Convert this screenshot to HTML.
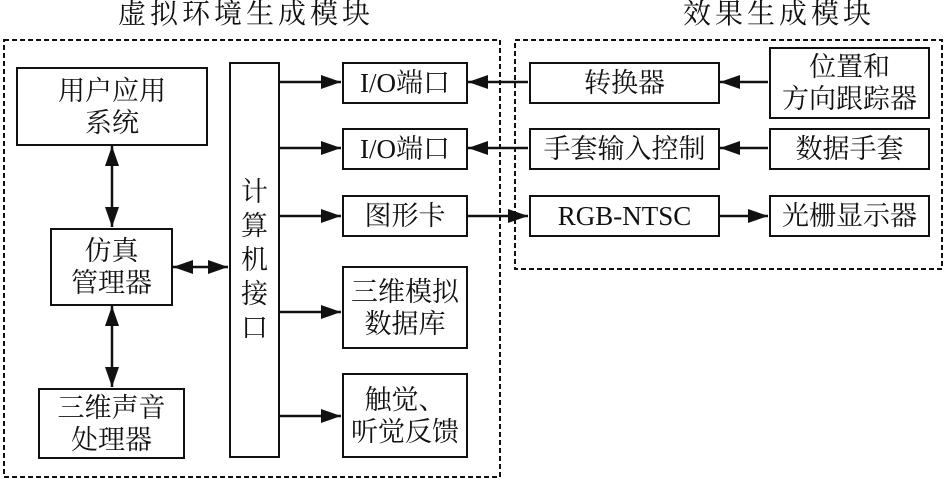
<!DOCTYPE html>
<html><head><meta charset="utf-8"><style>
body{margin:0;background:#fff;}
.c{position:relative;width:945px;height:479px;overflow:hidden;font-family:"Liberation Serif","Noto Serif CJK SC",serif;color:#111;}
.b{position:absolute;border:2.5px solid #111;box-sizing:border-box;display:flex;align-items:center;justify-content:center;text-align:center;font-size:27px;line-height:32px;background:#fff;}
.t{position:absolute;font-size:28px;letter-spacing:4px;white-space:nowrap;line-height:30px;}
svg{position:absolute;left:0;top:0;}
</style></head><body><div class="c">
<div class="t" style="left:118px;top:0px;">虚拟环境生成模块</div>
<div class="t" style="left:683px;top:0px;">效果生成模块</div>
<svg width="945" height="479">
<defs><marker id="a" markerWidth="10" markerHeight="8" refX="10" refY="4" orient="auto" markerUnits="userSpaceOnUse"><path d="M0,0L10,4L0,8z" fill="#111"/></marker>
<marker id="a2" viewBox="0 0 20 14" markerWidth="20" markerHeight="14" refX="20" refY="7" orient="auto" markerUnits="userSpaceOnUse"><path d="M0,0L20,7L0,14z" fill="#111"/></marker>
<marker id="s2" viewBox="0 0 20 14" markerWidth="20" markerHeight="14" refX="0" refY="7" orient="auto" markerUnits="userSpaceOnUse"><path d="M20,0L0,7L20,14z" fill="#111"/></marker></defs>
<rect x="4" y="40" width="496" height="437" fill="none" stroke="#111" stroke-width="2" stroke-dasharray="5,3"/>
<rect x="515" y="40" width="427" height="229" fill="none" stroke="#111" stroke-width="2" stroke-dasharray="5,3"/>
<g stroke="#111" stroke-width="2.5" fill="none">
<line x1="112" y1="146" x2="112" y2="227" marker-start="url(#s2)" marker-end="url(#a2)"/>
<line x1="112" y1="306" x2="112" y2="387" marker-start="url(#s2)" marker-end="url(#a2)"/>
<line x1="173" y1="267" x2="200" y2="267" marker-start="url(#s2)"/>
<line x1="200" y1="267" x2="228" y2="267" marker-end="url(#a2)"/>
<line x1="279" y1="82" x2="341" y2="82" marker-end="url(#a2)"/>
<line x1="279" y1="148" x2="341" y2="148" marker-end="url(#a2)"/>
<line x1="279" y1="216" x2="341" y2="216" marker-end="url(#a2)"/>
<line x1="279" y1="312" x2="341" y2="312" marker-end="url(#a2)"/>
<line x1="279" y1="416" x2="341" y2="416" marker-end="url(#a2)"/>
<line x1="528" y1="82" x2="468" y2="82" marker-end="url(#a2)"/>
<line x1="528" y1="148" x2="468" y2="148" marker-end="url(#a2)"/>
<line x1="467" y1="216" x2="528" y2="216" marker-end="url(#a2)"/>
<line x1="768" y1="82" x2="720" y2="82" marker-end="url(#a2)"/>
<line x1="768" y1="148" x2="720" y2="148" marker-end="url(#a2)"/>
<line x1="719" y1="216" x2="768" y2="216" marker-end="url(#a2)"/>
</g></svg>
<div class="b" style="left:16px;top:67px;width:192px;height:79px;">用户应用<br>系统</div>
<div class="b" style="left:50px;top:228px;width:123px;height:78px;">仿真<br>管理器</div>
<div class="b" style="left:38px;top:388px;width:147px;height:71px;">三维声音<br>处理器</div>
<div class="b" style="left:229px;top:62px;width:51px;height:396px;line-height:34px;">计<br>算<br>机<br>接<br>口</div>
<div class="b" style="left:342px;top:62px;width:126px;height:42px;">I/O端口</div>
<div class="b" style="left:342px;top:128px;width:126px;height:42px;">I/O端口</div>
<div class="b" style="left:342px;top:195px;width:126px;height:42px;">图形卡</div>
<div class="b" style="left:342px;top:266px;width:126px;height:83px;">三维模拟<br>数据库</div>
<div class="b" style="left:342px;top:373px;width:126px;height:85px;">触觉、<br>听觉反馈</div>
<div class="b" style="left:529px;top:62px;width:191px;height:42px;">转换器</div>
<div class="b" style="left:529px;top:128px;width:191px;height:42px;">手套输入控制</div>
<div class="b" style="left:529px;top:195px;width:191px;height:42px;">RGB-NTSC</div>
<div class="b" style="left:769px;top:47px;width:161px;height:72px;">位置和<br>方向跟踪器</div>
<div class="b" style="left:769px;top:128px;width:161px;height:42px;">数据手套</div>
<div class="b" style="left:769px;top:195px;width:161px;height:42px;">光栅显示器</div>
</div></body></html>
